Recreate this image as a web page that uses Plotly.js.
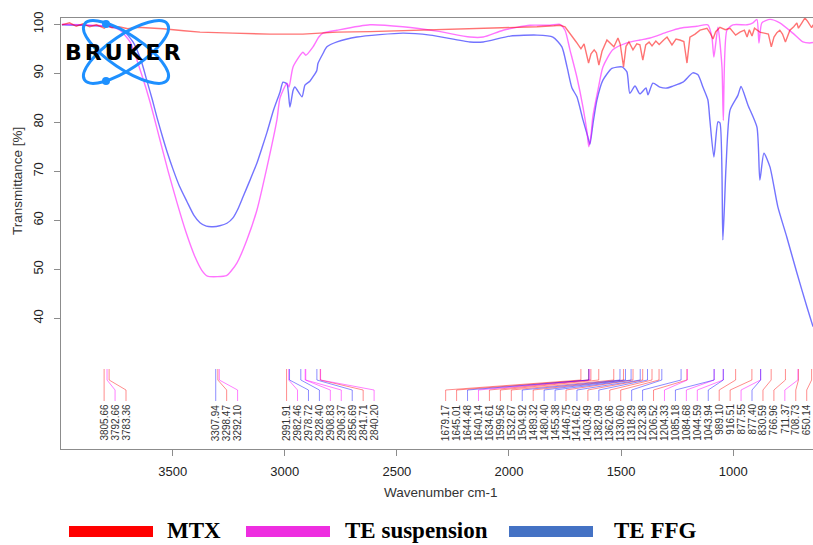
<!DOCTYPE html>
<html><head><meta charset="utf-8">
<script src="https://cdn.plot.ly/plotly-3.0.1.min.js"></script>
<style>html,body{margin:0;padding:0;background:#fff}#chart{width:813px;height:545px}</style>
</head><body><div id="chart"></div>
<script>
// ---------- DATA ----------
const seriesNames = ['MTX', 'TE suspension', 'TE FFG'];

// TE FFG (blue)
const wnFFG = [3994,3900,3780,3722,3677,3640,3615,3590,3570,3545,3525,3499,3470,3436,3405,3378,3350,3320,3290,3258,3231,3210,3186,3155,3124,3100,3079,3050,3021,3008,2990,2977,2963,2955,2923,2910,2888,2857,2852,2830,2812,2767,2678,2473,2352,2174,2115,1995,1875,1804,1764,1741,1719,1697,1670,1648,1639,1626,1608,1581,1541,1496,1474,1461,1438,1416,1389,1380,1358,1327,1295,1269,1224,1180,1157,1135,1113,1104,1086,1068,1059,1046,1032,1014,979,965,934,894,881,863,836,801,761,716,671,644];
const tFFG = [99.9,99.8,99.5,98.8,96.4,92.5,88.5,84.5,81.0,77.0,74.0,70.5,67.0,63.8,61.0,59.5,58.8,58.7,58.9,59.4,60.5,62.2,64.8,68.2,71.7,75.0,78.0,82.5,86.2,88.2,87.8,83.1,86.5,87.2,85.2,87.6,88.4,90.6,92.0,94.0,95.4,96.4,97.4,98.2,97.8,96.4,96.4,97.6,97.8,97.4,95.4,91.3,87.0,85.2,80.5,77.0,75.5,79.5,84.5,88.6,91.0,91.3,90.3,85.9,87.4,85.8,87.0,85.6,88.0,87.2,87.0,87.4,88.2,90.1,89.7,87.2,84.6,80.5,72.9,80.1,79.9,56.0,70.9,82.5,85.5,87.3,83.5,79.0,68.2,73.7,70.9,62.8,56.6,49.3,42.3,38.3];

// TE suspension (magenta)
const wnTES = [3994,3900,3780,3735,3690,3640,3600,3560,3520,3480,3440,3400,3370,3345,3300,3260,3240,3213,3169,3124,3079,3035,3021,2990,2981,2963,2919,2906,2874,2848,2830,2767,2620,2473,2321,2174,2115,2026,1906,1817,1773,1750,1728,1697,1670,1652,1644,1635,1626,1603,1581,1537,1474,1416,1371,1295,1238,1162,1113,1095,1086,1068,1050,1044,1028,1001,938,912,894,885,872,836,792,734,689,658,644];
const tTES = [100.0,99.9,99.6,98.8,96.4,90.0,84.0,77.0,70.0,63.5,57.5,52.5,49.8,48.6,48.5,48.7,49.6,51.3,56.0,62.1,70.9,80.5,85.0,88.0,87.2,91.3,94.3,93.7,95.4,97.4,98.2,98.8,99.9,99.5,98.6,97.4,97.4,98.8,99.8,99.8,100.0,98.8,94.8,89.2,83.1,78.0,75.0,77.0,81.1,86.6,91.3,94.8,96.2,96.8,97.2,98.4,99.2,99.6,99.9,97.4,93.3,99.4,91.3,80.4,98.8,99.9,99.9,100.3,101.0,96.2,100.3,101.0,100.3,98.2,96.4,96.2,96.3];

// MTX (red)
const wnMTX = [3994,3960,3930,3900,3870,3840,3805,3790,3770,3740,3700,3660,3620,3543,3450,3378,3231,3066,2919,2767,2620,2473,2320,2174,2026,1875,1800,1773,1750,1728,1700,1679,1665,1645,1634,1620,1610,1599,1585,1563,1548,1532,1514,1504,1489,1478,1465,1447,1430,1416,1403,1390,1375,1362,1345,1330,1310,1295,1273,1255,1238,1220,1206,1193,1170,1148,1117,1100,1090,1078,1059,1035,1014,989,970,950,938,928,916,905,881,858,843,830,818,805,792,780,767,747,730,716,709,695,680,668,650,644];
const tMTX = [99.9,100.3,99.6,100.1,99.5,99.9,99.2,99.7,99.3,99.5,99.1,99.4,99.3,99.1,98.7,98.4,98.2,98.0,98.0,98.4,98.5,98.7,98.8,99.0,99.3,99.5,99.7,99.8,99.5,98.2,96.4,95.0,96.0,92.1,94.0,94.8,94.2,91.7,94.5,96.8,96.2,95.4,97.2,96.0,91.3,95.5,96.4,94.8,96.0,95.8,92.7,95.8,96.4,95.6,96.6,95.9,96.8,97.4,95.8,97.0,96.8,96.5,92.1,97.4,98.0,98.8,99.2,98.0,97.0,98.5,99.4,98.9,99.2,97.8,98.4,98.8,97.4,98.9,97.6,99.2,98.4,98.2,98.0,95.4,97.4,98.3,98.8,98.0,96.4,98.8,99.5,100.3,99.2,100.2,101.3,100.6,99.3,99.9];

// Peak picks (wavenumbers) per sample
const peaksMTX = [3805.66,3783.36,3298.47,2991.91,2841.71,1679.17,1645.01,1634.61,1599.56,1532.67,1489.32,1446.75,1403.49,1362.06,1330.60,1206.52,989.10,916.51,830.59,766.96,708.73,650.14];
const peaksTES = [3792.66,3292.10,2982.46,2908.83,2906.37,2840.20,1640.14,1204.33,1084.68,1044.59,877.55,711.37];
const peaksFFG = [3307.94,2978.72,2928.40,2856.69,1644.48,1504.92,1480.40,1455.38,1414.62,1382.09,1318.29,1232.38,1085.18,1043.94,877.40];

const xTickVals = [3500,3000,2500,2000,1500,1000];
const yTickVals = [40,50,60,70,80,90,100];

// ---------- STYLE ----------
const W = 813, H = 545, ML = 61, MR = 0, MT = 18, MB = 96;
const PW = W - ML - MR, PH = H - MT - MB;
const X_RANGE = [3998, 644];
const Y_MIN = 13.33, Y_MAX = 101.29;
const lineColors = ['rgba(255,0,0,0.55)', 'rgba(255,0,255,0.55)', 'rgba(0,0,255,0.55)'];
const leaderColors = ['rgba(255,0,0,0.45)', 'rgba(255,0,255,0.5)', 'rgba(0,0,255,0.45)'];
const legendColors = ['#FF0000', '#EE2EE0', '#4472C4'];
const axisGray = '#8c8c8c';
const FONT = 'Liberation Sans, Arial, sans-serif';

const py2y = py => Y_MAX - (py - MT) / PH * (Y_MAX - Y_MIN);
const px2paper = px => (px - ML) / PW;
const py2paper = py => (H - MB - py) / PH;

// ---------- TRACES ----------
const traces = [];
const spectra = [[wnFFG, tFFG, 2, 'spline'], [wnTES, tTES, 1, 'spline'], [wnMTX, tMTX, 0, 'linear']];
spectra.forEach(([x, y, ci, shape]) => {
  traces.push({x, y, type: 'scatter', mode: 'lines', name: seriesNames[ci],
    line: {color: lineColors[ci], width: 1.4, shape, smoothing: 0.6}, hoverinfo: 'skip', showlegend: false});
});

// peak labels: spread so they don't overlap
const peaks = [];
[[peaksMTX, 0], [peaksTES, 1], [peaksFFG, 2]].forEach(([arr, ci]) => arr.forEach(w => peaks.push({w, ci})));
peaks.sort((a, b) => b.w - a.w);
const GAP = 48.8, RIGHT_BOUND = 672;
peaks.forEach((p, i) => { p.pos = i === 0 ? p.w : Math.min(p.w, peaks[i - 1].pos - GAP); });
peaks[peaks.length - 1].pos = Math.max(peaks[peaks.length - 1].pos, RIGHT_BOUND);
for (let i = peaks.length - 2; i >= 0; i--) peaks[i].pos = Math.max(peaks[i].pos, peaks[i + 1].pos + GAP);

const yL0 = py2y(369), yL1 = py2y(380), yL2 = py2y(390), yL3 = py2y(401), yText = py2y(403);
[0, 1, 2].forEach(ci => {
  const lx = [], ly = [];
  peaks.filter(p => p.ci === ci).forEach(p => {
    lx.push(p.w, p.w, p.pos, p.pos, null);
    ly.push(yL0, yL1, yL2, yL3, null);
  });
  traces.push({x: lx, y: ly, type: 'scatter', mode: 'lines', line: {color: leaderColors[ci], width: 1},
    hoverinfo: 'skip', showlegend: false, connectgaps: false});
});

const annotations = peaks.map(p => ({
  x: p.pos, y: yText, xref: 'x', yref: 'y', text: p.w.toFixed(2), showarrow: false,
  textangle: -90, xanchor: 'center', yanchor: 'top', borderpad: 0,
  font: {family: FONT, size: 10, color: '#333'}
}));

// axis titles
annotations.push({xref: 'paper', yref: 'paper', x: px2paper(441), y: py2paper(492), text: 'Wavenumber cm-1',
  showarrow: false, xanchor: 'center', yanchor: 'middle', font: {family: FONT, size: 13.5, color: '#333'}});
annotations.push({xref: 'paper', yref: 'paper', x: px2paper(17), y: py2paper(181), text: 'Transmittance [%]',
  showarrow: false, textangle: -90, xanchor: 'center', yanchor: 'middle', font: {family: FONT, size: 13.5, color: '#333'}});

// logo text
annotations.push({xref: 'paper', yref: 'paper', x: px2paper(124), y: py2paper(52.5), text: 'BRUKER',
  showarrow: false, xanchor: 'center', yanchor: 'middle', font: {family: 'DejaVu Sans, sans-serif', size: 22, color: '#000', weight: 'bold'}});

// legend
const shapes = [];
const legRectX = [69, 246, 509], legTextX = [165, 343, 612];
seriesNames.forEach((n, i) => {
  shapes.push({type: 'rect', xref: 'paper', yref: 'paper', x0: px2paper(legRectX[i]), x1: px2paper(legRectX[i] + 84),
    y0: py2paper(537), y1: py2paper(526), fillcolor: legendColors[i], line: {width: 0}});
  annotations.push({xref: 'paper', yref: 'paper', x: px2paper(legTextX[i]), y: py2paper(530), text: '<b>' + n + '</b>',
    showarrow: false, xanchor: 'left', yanchor: 'middle', font: {family: 'Liberation Serif, Times New Roman, serif', size: 23, color: '#000'}});
});

// logo atom graphic
const c = '#1E90FF';
const svg = `<svg xmlns="http://www.w3.org/2000/svg" width="${W}" height="${H}" viewBox="0 0 ${W} ${H}" preserveAspectRatio="none">` +
  `<ellipse cx="126" cy="52" rx="50" ry="17" transform="rotate(34 126 52)" fill="none" stroke="${c}" stroke-width="3"/>` +
  `<ellipse cx="126" cy="52" rx="50" ry="17" transform="rotate(-34 126 52)" fill="none" stroke="${c}" stroke-width="3"/>` +
  `<circle cx="106" cy="24" r="4" fill="${c}"/><circle cx="106" cy="81" r="4" fill="${c}"/></svg>`;
const images = [{source: 'data:image/svg+xml;charset=utf-8,' + encodeURIComponent(svg), xref: 'paper', yref: 'paper',
  x: px2paper(0), y: py2paper(0), sizex: W / PW, sizey: H / PH, xanchor: 'left', yanchor: 'top', sizing: 'stretch', layer: 'above'}];

const layout = {
  width: W, height: H, margin: {l: ML, r: MR, t: MT, b: MB, pad: 0},
  paper_bgcolor: '#fff', plot_bgcolor: '#fff', showlegend: false,
  font: {family: FONT, color: '#222'},
  xaxis: {range: X_RANGE, autorange: false, tickvals: xTickVals, ticktext: xTickVals.map(String),
    ticks: 'outside', ticklen: 6, tickwidth: 1, tickcolor: axisGray, showline: true, linecolor: axisGray,
    linewidth: 1, mirror: true, showgrid: false, zeroline: false, ticklabelstandoff: 4,
    tickfont: {family: FONT, size: 13, color: '#222'}},
  yaxis: {range: [Y_MIN, Y_MAX], autorange: false, tickvals: yTickVals, ticktext: yTickVals.map(String),
    tickangle: -90, ticks: 'outside', ticklen: 6, tickwidth: 1, tickcolor: axisGray, showline: true,
    linecolor: axisGray, linewidth: 1, showgrid: false, zeroline: false, ticklabelstandoff: 6,
    tickfont: {family: FONT, size: 13, color: '#222'}},
  annotations, shapes, images
};

Plotly.newPlot('chart', traces, layout, {staticPlot: true, displayModeBar: false}).then(() => {
  document.querySelectorAll('.annotation-text').forEach(t => {
    if (t.textContent === 'BRUKER') t.style.letterSpacing = '3px';
  });
});
</script></body></html>
